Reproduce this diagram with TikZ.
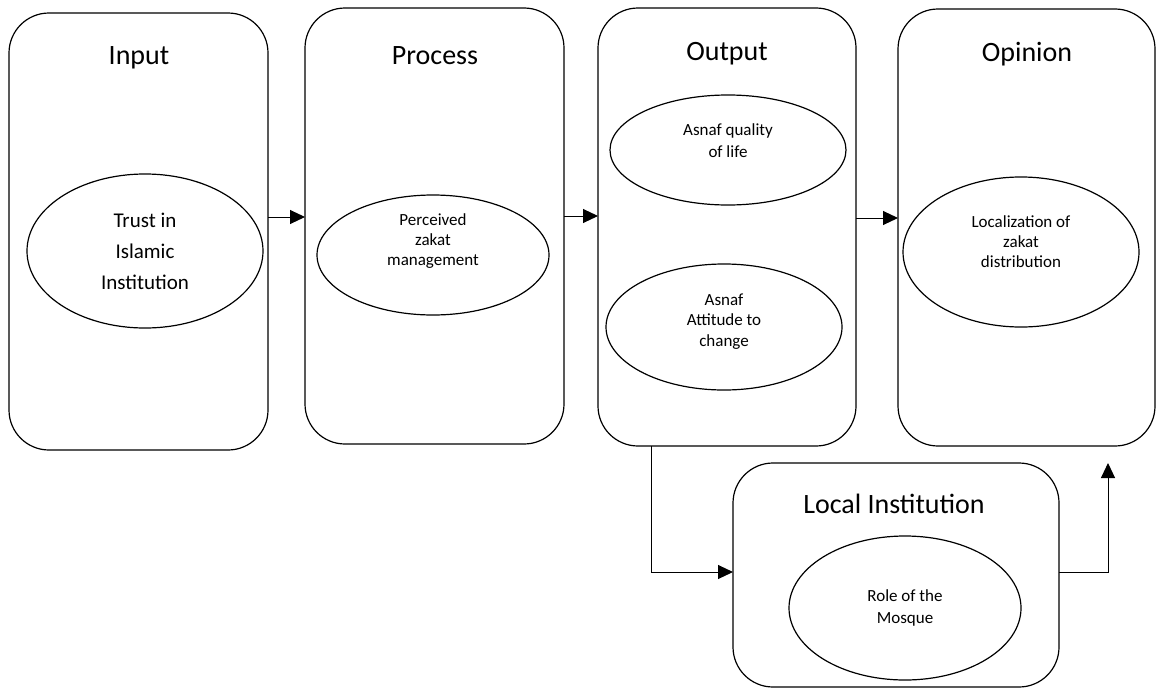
\documentclass[tikz,border=0pt]{standalone}
\usepackage{fontspec}
\setmainfont{Carlito}
\usetikzlibrary{shapes.geometric,arrows.meta}
\begin{document}
\begin{tikzpicture}[x=1pt,y=-1pt,
  stage/.style={draw,line width=1.2pt,rounded corners=40pt,inner sep=0pt,outer sep=0pt},
  title/.style={font=\fontsize{28}{32}\selectfont,inner sep=0pt},
  oval/.style={draw,ellipse,line width=1.2pt,inner sep=0pt,outer sep=0pt,align=center},
  arr/.style={line width=1pt,-{Triangle[length=15pt,width=14pt]}}
]
\useasboundingbox (0,0) rectangle (1158,688);

% stage boxes
\node[stage,minimum width=259pt,minimum height=437pt] (input)   at (138.5,231.5) {};
\node[stage,minimum width=259pt,minimum height=436pt] (process) at (434.5,226) {};
\node[stage,minimum width=258pt,minimum height=438pt] (output)  at (727,227) {};
\node[stage,minimum width=257pt,minimum height=437pt] (opinion) at (1026.5,227.5) {};
\node[stage,minimum width=326pt,minimum height=224pt] (local)   at (896,575) {};

% stage titles
\node[title] (tin)  at (139,58) {Input};
\node[title] (tpr)  at (435,56) {Process};
\node[title] (tout) at (727,54) {Output};
\node[title] (top)  at (1027,54) {Opinion};
\node[title] (tloc) at (894,504) {Local Institution};

% factors
\node[oval,minimum width=236pt,minimum height=154pt,font=\fontsize{21}{31}\selectfont] (trust) at (145,251)
  {Trust in\\Islamic\\Institution};
\node[oval,minimum width=232pt,minimum height=120pt,font=\fontsize{17}{20}\selectfont] (perc) at (433,255)
  {Perceived\\zakat\\management\\[10pt]};
\node[oval,minimum width=236pt,minimum height=110pt,font=\fontsize{17}{22}\selectfont] (qual) at (728,150)
  {Asnaf quality\\of life\\[-4pt]};
\node[oval,minimum width=236pt,minimum height=126pt,font=\fontsize{17}{20.5}\selectfont] (att) at (724,327)
  {Asnaf\\Attitude to\\change\\[-6pt]};
\node[oval,minimum width=236pt,minimum height=150pt,font=\fontsize{17}{20}\selectfont] (loc) at (1021,252)
  {Localization of\\zakat\\distribution\\};
\node[oval,minimum width=232pt,minimum height=144pt,font=\fontsize{17}{22}\selectfont] (mosque) at (905,608)
  {Role of the\\Mosque};

% connectors
\coordinate (r1) at (0,217);
\coordinate (r2) at (0,216);
\coordinate (r3) at (0,218);
\draw[arr] (input.east |- r1) -- (process.west |- r1);
\draw[arr] (process.east |- r2) -- (output.west |- r2);
\draw[arr] (output.east |- r3) -- (opinion.west |- r3);

\coordinate (d1) at (651,572);
\draw[arr] (output.south -| d1) -- (d1) -- (local.west |- d1);

\coordinate (d2) at (1108,572);
\coordinate (d3) at (1108,463);
\draw[arr] (local.east |- d2) -- (d2) -- (d3);
\end{tikzpicture}
\end{document}
